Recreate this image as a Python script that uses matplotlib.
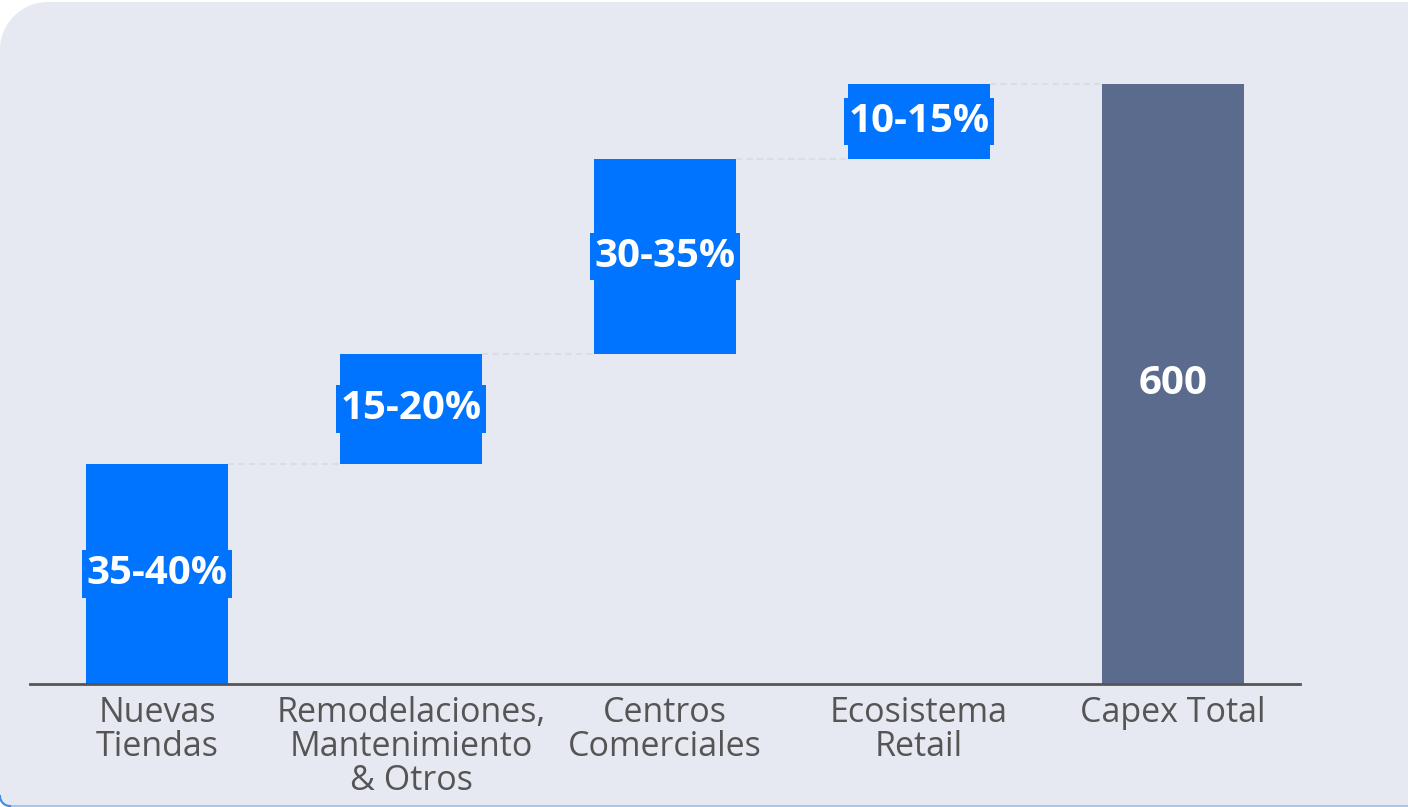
import numpy as np
import matplotlib
matplotlib.use("Agg")
import matplotlib.pyplot as plt
from matplotlib.path import Path
from matplotlib.patches import PathPatch

# Capex allocation waterfall
categories = ["Nuevas\nTiendas", "Remodelaciones,\nMantenimiento\n& Otros",
              "Centros\nComerciales", "Ecosistema\nRetail", "Capex Total"]
step_values = [220, 110, 195, 75]
step_labels = ["35-40%", "15-20%", "30-35%", "10-15%"]
total_value = 600
total_label = "600"

BLUE = "#0073FF"
TOTAL = "#5B6B8D"
PANEL = "#E6E9F1"
TEXT = "#555555"
FONT = ["Open Sans", "DejaVu Sans"]

W, H = 1408, 807
fig = plt.figure(figsize=(W / 100, H / 100), dpi=100)
fig.patch.set_facecolor("white")

# Panel background: rounded top-left corner, small rounded bottom-left
bg = fig.add_axes([0, 0, 1, 1])
bg.set_xlim(0, W)
bg.set_ylim(H, 0)
bg.axis("off")
r1, r2 = 48, 10
top, bottom, left, right = 2, 806, 0, W + 20
t = np.linspace(np.pi, 1.5 * np.pi, 30)
arc_tl = np.column_stack([left + r1 + r1 * np.cos(t), top + r1 + r1 * np.sin(t)])
t2 = np.linspace(0.5 * np.pi, np.pi, 15)
arc_bl = np.column_stack([left + r2 + r2 * np.cos(t2), bottom - r2 + r2 * np.sin(t2)])
verts = np.vstack([arc_tl, [[right, top], [right, bottom]], arc_bl, arc_tl[:1]])
bg.add_patch(PathPatch(Path(verts), facecolor=PANEL, edgecolor="none"))
bg.plot([r2, W], [bottom - 0.5, bottom - 0.5], color="#A9C6EA", lw=1.5)
bg.plot(arc_bl[:, 0], arc_bl[:, 1], color="#3D8BF0", lw=1.5)

# Chart axes: x from -0.5..4.5 spans pixel 30..1300, y 0 at pixel 684
x0, x1 = 30, 1300
y_base, y_top = 684, 24
ax = fig.add_axes([x0 / W, 1 - y_base / H, (x1 - x0) / W, (y_base - y_top) / H])
ax.set_facecolor("none")
ax.set_xlim(-0.5, 4.5)
ax.set_ylim(0, 660)
for s in ["top", "right", "left"]:
    ax.spines[s].set_visible(False)
ax.spines["bottom"].set_color("#555555")
ax.spines["bottom"].set_linewidth(2)
ax.set_yticks([])
ax.set_xticks(range(len(categories)))
ax.set_xticklabels(categories, fontsize=24.5, color=TEXT, family=FONT, linespacing=1.0)
ax.tick_params(axis="x", length=0, pad=9)

width = 0.56
bottoms = np.concatenate([[0], np.cumsum(step_values)[:-1]])
tops = np.cumsum(step_values)
xs = np.arange(len(step_values))

ax.bar(xs, step_values, bottom=bottoms, width=width, color=BLUE, zorder=2)
ax.bar(len(step_values), total_value, width=width, color=TOTAL, zorder=2)

# Connectors between consecutive bars
for i, lvl in enumerate(tops):
    ax.plot([i + width / 2, i + 1 - width / 2], [lvl, lvl], color="#D9DDE6",
            lw=1.5, ls=(0, (3, 2)), zorder=1)

for i, (b, v, lab) in enumerate(zip(bottoms, step_values, step_labels)):
    ax.text(i, b + v / 2, lab, ha="center", va="center", color="white",
            fontsize=29, fontweight="bold", family=FONT, zorder=3,
            bbox=dict(boxstyle="square,pad=0.1", facecolor=BLUE, edgecolor="none"))
ax.text(len(step_values), total_value / 2, total_label, ha="center", va="center",
        color="white", fontsize=29, fontweight="bold", family=FONT, zorder=3)

fig.savefig("out.png", dpi=100, facecolor=fig.get_facecolor())
